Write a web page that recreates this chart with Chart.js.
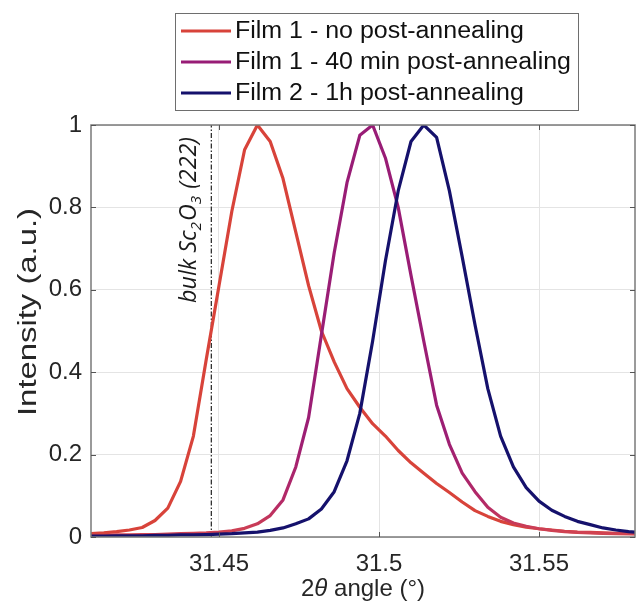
<!DOCTYPE html>
<html>
<head>
<meta charset="utf-8">
<script src="https://cdn.jsdelivr.net/npm/chart.js@4.4.1/dist/chart.umd.min.js"></script>
<style>
  body { margin: 0; background: #fff; }
  #wrap { width: 638px; height: 613px; }
</style>
</head>
<body>
<div id="wrap"><canvas id="chart" width="638" height="613"></canvas></div>
<script>
'use strict'

/******************     DATA    ******************/

const angles = [31.410,31.414,31.418,31.422,31.426,31.430,31.434,31.438,31.442,31.446,31.450,31.454,31.458,31.462,31.466,31.470,31.474,31.478,31.482,31.486,31.490,31.494,31.498,31.502,31.506,31.510,31.514,31.518,31.522,31.526,31.530,31.534,31.538,31.542,31.546,31.550,31.554,31.558,31.562,31.566,31.570,31.574,31.578,31.582];

const film1NoAnneal = [0.008,0.010,0.013,0.017,0.023,0.040,0.070,0.135,0.245,0.43,0.61,0.79,0.94,1.0,0.96,0.87,0.74,0.61,0.50,0.425,0.36,0.315,0.275,0.245,0.21,0.18,0.155,0.13,0.108,0.085,0.064,0.050,0.038,0.030,0.024,0.020,0.017,0.014,0.012,0.011,0.010,0.009,0.008,0.008];

const film1Anneal40 = [0.004,0.004,0.005,0.005,0.006,0.006,0.007,0.008,0.009,0.010,0.012,0.015,0.021,0.032,0.052,0.090,0.17,0.29,0.49,0.69,0.86,0.975,1.0,0.92,0.80,0.635,0.475,0.32,0.225,0.155,0.11,0.072,0.048,0.034,0.026,0.020,0.016,0.013,0.011,0.010,0.009,0.008,0.008,0.007];

const film2Anneal1h = [0.002,0.002,0.003,0.003,0.003,0.004,0.004,0.005,0.005,0.006,0.007,0.008,0.010,0.012,0.016,0.022,0.032,0.044,0.068,0.11,0.185,0.30,0.475,0.67,0.84,0.96,1.0,0.97,0.84,0.68,0.515,0.36,0.245,0.17,0.12,0.087,0.065,0.05,0.038,0.030,0.022,0.017,0.013,0.011];

const seriesNames = ['Film 1 - no post-annealing', 'Film 1 - 40 min post-annealing', 'Film 2 - 1h post-annealing'];
const xTicks = [31.45, 31.5, 31.55];
const yTicks = [0, 0.2, 0.4, 0.6, 0.8, 1];
const bulkAngle = 31.4476;

/******************     STYLE    ******************/

const RED = '#d8433a';
const PURPLE = '#981c76';
const NAVY = '#15116c';
const FONT = '"Liberation Sans", Arial, sans-serif';
const TEXT = '#262626';

const toPoints = (ys) => angles.map((x, i) => ({x: x, y: ys[i]}));

// purple line drifts reddish toward the baseline
const purpleColor = (context) => {
    const area = context.chart.chartArea;
    if (!area) return PURPLE;
    const g = context.chart.ctx.createLinearGradient(0, area.bottom, 0, area.top);
    g.addColorStop(0, '#d4464f');
    g.addColorStop(0.08, '#b52a66');
    g.addColorStop(0.25, '#9c1e74');
    g.addColorStop(1, PURPLE);
    return g;
}

// the original text is set a little wider than Liberation Sans, stretch it to length
const stretchText = (ctx, text, x, y, width) => {
    const w = ctx.measureText(text).width;
    ctx.save();
    ctx.translate(x, y);
    ctx.scale(width / w, 1);
    ctx.fillText(text, 0, 0);
    ctx.restore();
}

/******************     PLUGINS    ******************/

const frameAndTicks = {
    id: 'frameAndTicks',
    beforeDatasetsDraw(chart) {
        const {ctx, chartArea: a, scales: {x}} = chart;
        // bulk reference line
        const bx = x.getPixelForValue(bulkAngle);
        ctx.save();
        ctx.strokeStyle = '#222';
        ctx.lineWidth = 1.2;
        ctx.setLineDash([5, 2, 1.5, 2]);
        ctx.beginPath();
        ctx.moveTo(bx, a.bottom);
        ctx.lineTo(bx, a.top);
        ctx.stroke();
        ctx.restore();
    },
    afterDraw(chart) {
        const {ctx, chartArea: a, scales: {x, y}} = chart;
        ctx.save();
        ctx.strokeStyle = '#7a7a7a';
        ctx.lineWidth = 1.5;
        ctx.strokeRect(a.left, a.top, a.right - a.left, a.bottom - a.top);
        ctx.lineWidth = 1;
        ctx.strokeStyle = '#555';
        ctx.beginPath();
        for (const v of xTicks) {
            const px = Math.round(x.getPixelForValue(v)) + 0.5;
            ctx.moveTo(px, a.bottom); ctx.lineTo(px, a.bottom - 5);
            ctx.moveTo(px, a.top); ctx.lineTo(px, a.top + 5);
        }
        for (const v of yTicks) {
            const py = Math.round(y.getPixelForValue(v)) + 0.5;
            ctx.moveTo(a.left, py); ctx.lineTo(a.left + 5, py);
            ctx.moveTo(a.right, py); ctx.lineTo(a.right - 5, py);
        }
        ctx.stroke();

        // axis titles
        ctx.fillStyle = TEXT;
        ctx.textBaseline = 'middle';
        ctx.font = '24px ' + FONT;
        const p1 = '2', p3 = ' angle (\u00b0)';
        const w1 = ctx.measureText(p1).width;
        const w3 = ctx.measureText(p3).width;
        ctx.font = 'italic 24px ' + FONT;
        const w2 = ctx.measureText('\u03b8').width;
        let tx = (a.left + a.right) / 2 - (w1 + w2 + w3) / 2;
        const ty = 589;
        ctx.textAlign = 'left';
        ctx.font = '24px ' + FONT;
        ctx.fillText(p1, tx, ty);
        ctx.font = 'italic 24px ' + FONT;
        ctx.fillText('\u03b8', tx + w1, ty);
        ctx.font = '24px ' + FONT;
        ctx.fillText(p3, tx + w1 + w2, ty);

        ctx.save();
        ctx.translate(29, 312);
        ctx.rotate(-Math.PI / 2);
        ctx.font = '25px ' + FONT;
        stretchText(ctx, 'Intensity (a.u.)', -104, 0, 208);
        ctx.restore();

        // bulk Sc2O3 (222) label
        ctx.save();
        ctx.translate(x.getPixelForValue(bulkAngle) - 15, 303);
        ctx.rotate(-Math.PI / 2);
        ctx.textAlign = 'left';
        ctx.textBaseline = 'alphabetic';
        ctx.fillStyle = '#1a1a1a';
        const parts = [['bulk Sc', 0], ['2', 1], ['O', 0], ['3', 1], [' (222)', 0]];
        const big = 'italic 23px "Open Sans", sans-serif';
        const small = 'italic 15px "Open Sans", sans-serif';
        let total = 0;
        for (const [s, sub] of parts) {
            ctx.font = sub ? small : big;
            total += ctx.measureText(s).width + (sub ? 1 : 0);
        }
        ctx.scale(166 / total, 1);
        let cx = 0;
        for (const [s, sub] of parts) {
            ctx.font = sub ? small : big;
            ctx.fillText(s, cx, sub ? 5 : 0);
            cx += ctx.measureText(s).width + (sub ? 1 : 0);
        }
        ctx.restore();

        // legend
        ctx.fillStyle = '#fff';
        ctx.fillRect(175, 13, 403, 97);
        ctx.strokeStyle = '#6e6e6e';
        ctx.lineWidth = 1;
        ctx.strokeRect(175.5, 13.5, 403, 97);
        const colors = [RED, PURPLE, NAVY];
        ctx.font = '23px ' + FONT;
        ctx.textBaseline = 'middle';
        ctx.textAlign = 'left';
        const sx = 336 / ctx.measureText(seriesNames[1]).width;
        seriesNames.forEach((name, i) => {
            const ly = 31 + i * 31;
            ctx.strokeStyle = colors[i];
            ctx.lineWidth = 3;
            ctx.beginPath();
            ctx.moveTo(181, ly);
            ctx.lineTo(231, ly);
            ctx.stroke();
            ctx.fillStyle = '#111';
            stretchText(ctx, name, 235, ly + 1, ctx.measureText(name).width * sx);
        });
        ctx.restore();
    }
}

/******************     CHART    ******************/

const ctx = document.getElementById('chart');
const chart = new Chart(ctx, {
    type: 'line',
    data: {
        datasets: [
            {label: seriesNames[0], data: toPoints(film1NoAnneal), borderColor: RED, order: 2},
            {label: seriesNames[1], data: toPoints(film1Anneal40), borderColor: purpleColor, order: 1},
            {label: seriesNames[2], data: toPoints(film2Anneal1h), borderColor: NAVY, order: 0}
        ]
    },
    options: {
        responsive: false,
        animation: false,
        devicePixelRatio: 1,
        layout: {padding: {top: 125, right: 3, left: 0, bottom: 0}, autoPadding: false},
        elements: {
            line: {borderWidth: 3.2, tension: 0, borderCapStyle: 'round', borderJoinStyle: 'round'},
            point: {radius: 0}
        },
        plugins: {legend: {display: false}, tooltip: {enabled: false}},
        scales: {
            x: {
                type: 'linear',
                min: 31.41,
                max: 31.58,
                afterBuildTicks: (scale) => { scale.ticks = xTicks.map(v => ({value: v})); },
                afterFit: (scale) => { scale.height = 76; },
                grid: {color: '#e4e4e4', drawTicks: false},
                border: {display: false},
                ticks: {
                    padding: 13,
                    color: TEXT,
                    font: {family: FONT, size: 24},
                    callback: (v) => String(v)
                }
            },
            y: {
                min: 0,
                max: 1,
                afterBuildTicks: (scale) => { scale.ticks = yTicks.map(v => ({value: v})); },
                afterFit: (scale) => { scale.width = 91; },
                grid: {color: '#e4e4e4', drawTicks: false},
                border: {display: false},
                ticks: {
                    padding: 9,
                    color: TEXT,
                    font: {family: FONT, size: 24},
                    callback: (v) => String(+v.toFixed(1))
                }
            }
        }
    },
    plugins: [frameAndTicks]
});
</script>
</body>
</html>
